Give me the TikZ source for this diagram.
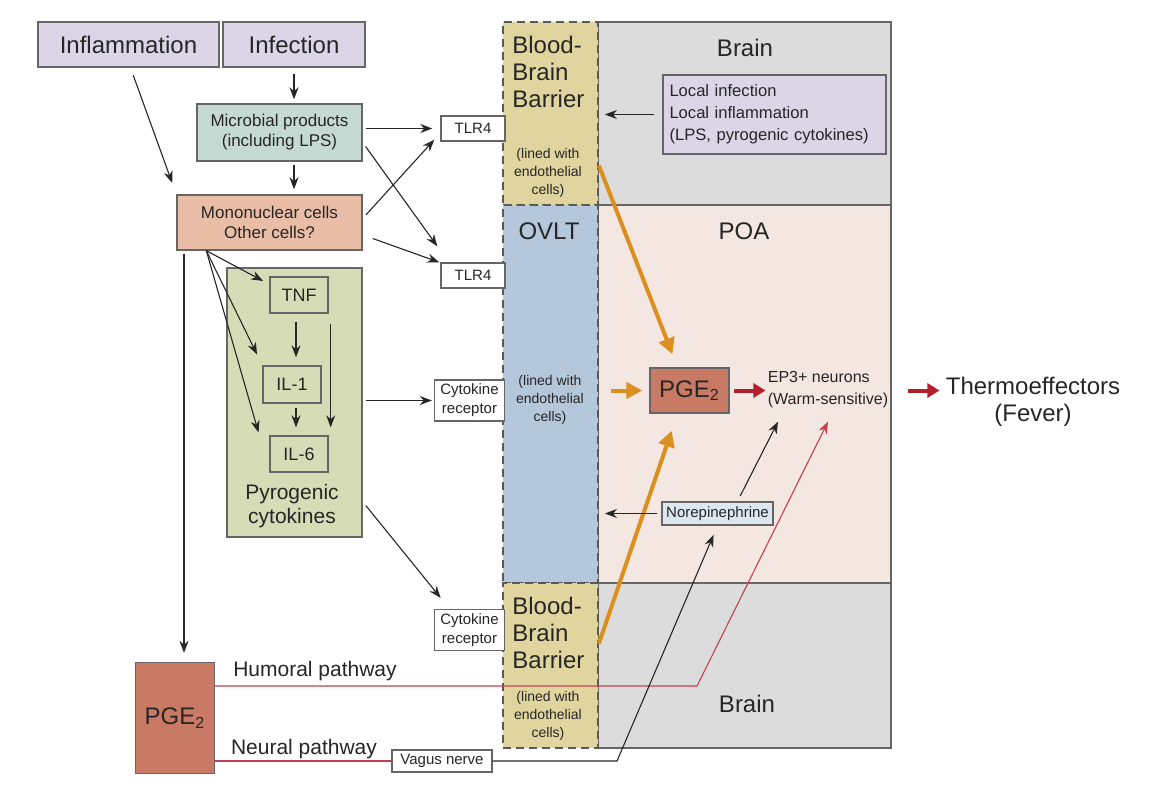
\documentclass[tikz,border=0pt]{standalone}
\usepackage{fontspec}
\setmainfont{Liberation Sans}
\usetikzlibrary{arrows.meta}
\definecolor{lavBox}{HTML}{DBD5E7}
\definecolor{microTeal}{HTML}{C6DAD4}
\definecolor{monoSalmon}{HTML}{E9BDA6}
\definecolor{cytoGreen}{HTML}{D6DDB6}
\definecolor{bbbTan}{HTML}{E1D59F}
\definecolor{ovltBlue}{HTML}{B5C7DB}
\definecolor{brainGray}{HTML}{DCDCDC}
\definecolor{poaPink}{HTML}{F4E6E0}
\definecolor{pgeRed}{HTML}{C87A64}
\definecolor{noreBlue}{HTML}{DDE7F0}
\definecolor{orangeA}{HTML}{DB8F1E}
\definecolor{redA}{HTML}{B51F2B}
\definecolor{redB}{HTML}{C4404F}

\begin{document}
\begin{tikzpicture}[x=0.5pt,y=-0.5pt]
\tikzset{box/.style={draw=black!60, line width=0.7pt, inner sep=1pt, align=center, text=black!85},
  smallbox/.style={box, fill=white, inner sep=0.5pt, font=\fontsize{7.5}{9.5}\selectfont},
  lbl/.style={inner sep=0pt, align=center, text=black!85},
  lined/.style={lbl, font=\fontsize{7}{9}\selectfont},
  bigfont/.style={font=\fontsize{12}{14}\selectfont},
  bbbfont/.style={lbl, align=left, anchor=north west, font=\fontsize{12}{13.5}\selectfont},
  region/.style={draw=black!60, line width=0.9pt, minimum width=146.5pt},
  barrier/.style={draw=black!65, dash pattern=on 4pt off 2.5pt, line width=0.9pt, minimum width=47.5pt},
  arr/.style={-{Stealth[length=6pt,width=4.5pt]}, line width=0.55pt, draw=black!85},
  orarr/.style={-{Triangle[length=8pt,width=8pt]}, line width=2pt, draw=orangeA},
  redarr/.style={-{Triangle[length=6pt,width=7pt]}, line width=2pt, draw=redA},
  redline/.style={line width=0.55pt, draw=redB}}
\useasboundingbox (0,0) rectangle (1156,786);

% brain regions
\node[region, fill=brainGray, minimum height=91.5pt] (brainT) at (744.5,113.5) {};
\node[region, fill=poaPink, minimum height=189pt] (poa) at (744.5,394) {};
\node[region, fill=brainGray, minimum height=82.5pt] (brainB) at (744.5,665.5) {};
\node[barrier, fill=bbbTan, minimum height=91.5pt] (bbbT) at (550.5,113.5) {};
\node[barrier, fill=ovltBlue, minimum height=189pt] (ovlt) at (550.5,394) {};
\node[barrier, fill=bbbTan, minimum height=82.5pt] (bbbB) at (550.5,665.5) {};

\node[lbl, bigfont] (brainTtxt) at (745,48) {Brain};
\node[lbl, bigfont] (poaTxt) at (744,231) {POA};
\node[lbl, bigfont] (ovltTxt) at (549,231) {OVLT};
\node[lbl, bigfont] (brainBtxt) at (747,704) {Brain};
\node[bbbfont] (bbbTtxt) at (512,36) {Blood-\\Brain\\Barrier};
\node[bbbfont] (bbbBtxt) at (512,597) {Blood-\\Brain\\Barrier};
\node[lined] (bbbTlined) at (548,173) {(lined with\\endothelial\\cells)};
\node[lined] (ovltLined) at (550,400) {(lined with\\endothelial\\cells)};
\node[lined] (bbbBlined) at (548,716) {(lined with\\endothelial\\cells)};

% periphery
\node[box, bigfont, fill=lavBox, minimum width=90.5pt, minimum height=22.5pt] (infl) at (128.5,44.5) {Inflammation};
\node[box, bigfont, fill=lavBox, minimum width=71pt, minimum height=22.5pt] (infc) at (294,44.5) {Infection};
\node[box, fill=microTeal, minimum width=82.5pt, minimum height=28.5pt, font=\fontsize{8.5}{10}\selectfont] (micro) at (279.5,132.5) {Microbial products\\(including LPS)};
\node[box, fill=monoSalmon, minimum width=92.5pt, minimum height=27.5pt, font=\fontsize{8.5}{10}\selectfont] (mono) at (269.5,222.5) {Mononuclear cells\\Other cells?};
\node[box, fill=cytoGreen, minimum width=67.5pt, minimum height=134.5pt] (pyro) at (294.5,402.5) {};
\node[lbl, font=\fontsize{10.5}{12}\selectfont] (pyroTxt) at (292,506) {Pyrogenic\\cytokines};
\node[box, fill=cytoGreen, minimum width=29pt, minimum height=18pt, font=\fontsize{9}{11}\selectfont] (tnf) at (299,295) {TNF};
\node[box, fill=cytoGreen, minimum width=29pt, minimum height=18.5pt, font=\fontsize{9}{11}\selectfont] (ilone) at (292,384.5) {IL-1};
\node[box, fill=cytoGreen, minimum width=29pt, minimum height=18pt, font=\fontsize{9}{11}\selectfont] (ilsix) at (299,454) {IL-6};
\node[smallbox, minimum width=32pt, minimum height=12.5pt] (tlrA) at (473,128.5) {TLR4};
\node[smallbox, minimum width=32pt, minimum height=12.5pt] (tlrB) at (473,275.5) {TLR4};
\node[smallbox, minimum width=35pt, minimum height=20.5pt] (cytA) at (469.5,400.5) {Cytokine\\receptor};
\node[smallbox, minimum width=35pt, minimum height=20.5pt] (cytB) at (469.5,630) {Cytokine\\receptor};
\node[box, fill=pgeRed, bigfont, minimum width=39.5pt, minimum height=55.5pt] (pgeL) at (175,718) {PGE\textsubscript{2}};
\node[lbl, font=\fontsize{10.5}{12}\selectfont] (humTxt) at (315,671) {Humoral pathway};
\node[lbl, font=\fontsize{10.5}{12}\selectfont] (neuTxt) at (304,749.5) {Neural pathway};
\node[smallbox, minimum width=50pt, minimum height=11pt] (vagus) at (442,761) {Vagus nerve};

% brain side
\node[box, fill=lavBox, minimum width=111.5pt, minimum height=39.5pt, align=left, text width=105pt, font=\fontsize{8.3}{11}\selectfont] (local) at (774.5,114.5) {Local infection\\Local inflammation\\(LPS, pyrogenic cytokines)};
\node[box, fill=pgeRed, bigfont, minimum width=39.5pt, minimum height=22.5pt] (pgeC) at (689.5,390.5) {PGE\textsubscript{2}};
\node[lbl, align=left, font=\fontsize{8}{11}\selectfont] (ep3) at (828,390) {EP3+ neurons\\(Warm-sensitive)};
\node[smallbox, fill=noreBlue, minimum width=55.5pt, minimum height=11.5pt] (norep) at (717.5,513.5) {Norepinephrine};
\node[lbl, font=\fontsize{12}{13.5}\selectfont] (thermo) at (1033,402) {Thermoeffectors\\(Fever)};

\coordinate (tnfD) at ([xshift=-1.5pt]tnf.south);
\coordinate (tnfR) at ([xshift=1pt]tnf.south east);
\coordinate (iloneD) at ([xshift=2pt]ilone.south);
\coordinate (fan) at ([xshift=15pt]mono.south west);
\coordinate (pgeTop) at ([xshift=4.5pt]pgeL.north);
\coordinate (humBend) at (697,686);
\coordinate (vagBend) at (617,761);

\draw[arr, shorten <=4pt, shorten >=6pt] ([xshift=1pt]infl.south) -- (mono.north west);
\draw[arr, shorten <=3pt, shorten >=2pt] (infc.south) -- (infc.south |- micro.north);
\draw[arr, shorten <=1.5pt, shorten >=2.5pt] (micro.south -| infc.south) -- (mono.north -| infc.south);
\draw[arr, shorten <=1.5pt, shorten >=4pt] (micro.east |- tlrA.west) -- (tlrA.west);
\draw[arr, shorten <=2.5pt] ([yshift=-5pt]micro.east) -- ([xshift=-1.5pt,yshift=8pt]tlrB.north west);
\draw[arr, shorten <=2.5pt] ([yshift=2pt]mono.east) -- ([xshift=-3pt,yshift=1pt]tlrA.south west);
\draw[arr] ([xshift=5pt,yshift=-8pt]mono.east) -- ([xshift=-0.5pt]tlrB.north west);
\draw[arr, shorten >=3.5pt] (fan) -- ([yshift=-4pt]tnf.north west);
\draw[arr, shorten >=6pt] (fan) -- (ilone.north west);
\draw[arr, shorten >=1.5pt] (fan) -- ([xshift=-5pt]ilsix.north west);
\draw[arr, shorten <=4pt, shorten >=4pt] (tnfD) -- (tnfD |- ilone.north);
\draw[arr, shorten <=5pt, shorten >=4pt] (tnfR) -- (tnfR |- ilsix.north);
\draw[arr, shorten <=2pt, shorten >=4pt] (iloneD) -- (iloneD |- ilsix.north);
\draw[arr, shorten <=1.5pt, shorten >=1pt] (pyro.east |- cytA.west) -- (cytA.west);
\draw[arr, shorten <=2.5pt, shorten >=7pt] ([yshift=18pt]pyro.south east) -- ([xshift=-10pt]cytB.north);
\draw[arr, shorten <=1.5pt, shorten >=4.5pt] (pgeTop |- mono.south) -- (pgeTop);
\draw[arr, shorten <=4pt, shorten >=3pt] (local.west) -- (local.west -| bbbT.east);

\draw[orarr, shorten >=7pt] ([yshift=-26pt]bbbT.east) -- ([xshift=-6pt]pgeC.north);
\draw[orarr, shorten <=6pt, shorten >=3.5pt] (ovlt.east |- pgeC.west) -- (pgeC.west);
\draw[orarr, shorten >=9pt] ([yshift=11pt]bbbB.east) -- ([xshift=-6pt]pgeC.south);
\draw[redarr, shorten <=2pt, shorten >=1pt] (pgeC.east) -- (pgeC.east -| ep3.west);
\draw[redarr, shorten <=8pt, shorten >=3pt] (poa.east |- pgeC.east) -- (thermo.west |- pgeC.east);

\draw[arr, shorten <=2pt, shorten >=3pt] (norep.west) -- (norep.west -| ovlt.east);
\draw[arr, shorten <=3pt] ([xshift=10pt]norep.north) -- ([xshift=-25pt,yshift=-6.5pt]ep3.south);
\draw[redline, -{Stealth[length=6pt,width=4.5pt]}] ([yshift=16pt]pgeL.east) -- (humBend) -- ([yshift=-6.5pt]ep3.south);
\draw[redline] ([yshift=-21.5pt]pgeL.east) -- (vagus.west);
\draw[arr, shorten >=5pt] (vagus.east) -- (vagBend) -- (norep.south);
\end{tikzpicture}
\end{document}
